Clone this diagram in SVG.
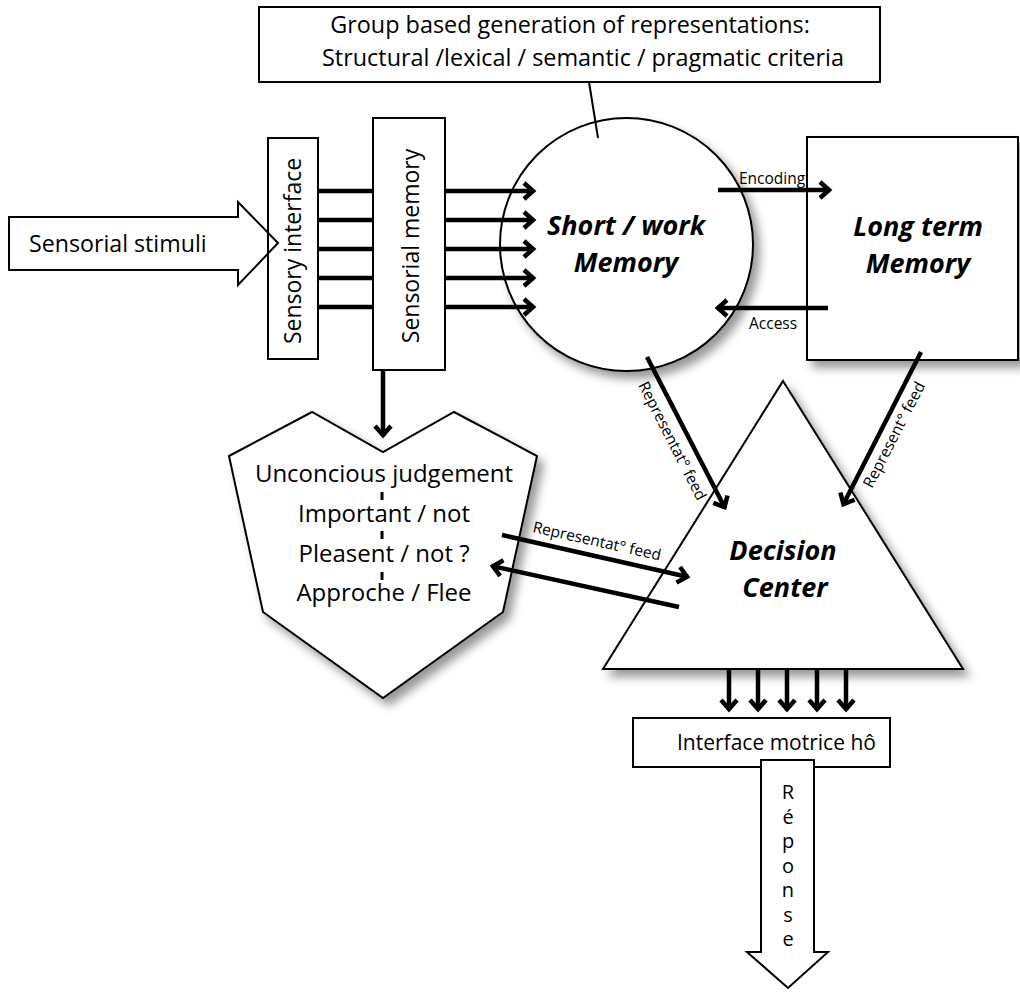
<svg xmlns="http://www.w3.org/2000/svg" width="1020" height="992" viewBox="0 0 1020 992">
  <defs>
    <style>
      .box { fill: #fff; stroke: #000; stroke-width: 2; }
      .open { fill: none; stroke: #000; stroke-width: 2; }
      .lbl { font-family: "Open Sans", "Liberation Sans", sans-serif; fill: #000; }
      .big { font-family: "Open Sans", "Liberation Sans", sans-serif; font-weight: bold; font-style: italic; font-size: 27px; fill: #000; text-anchor: middle; }
      .wire { stroke: #000; stroke-width: 4.5; fill: none; }
      .thin { stroke: #000; stroke-width: 2; fill: none; }
      .mid { text-anchor: middle; }
      .small { font-size: 15.5px; }
      .upright { writing-mode: vertical-rl; text-orientation: upright; letter-spacing: -2.5px; }
    </style>
    <filter id="shadow" x="-20%" y="-20%" width="150%" height="150%">
      <feDropShadow dx="6" dy="7" stdDeviation="5" flood-color="#000" flood-opacity="0.4"/>
    </filter>
    <marker id="chev" markerUnits="userSpaceOnUse" viewBox="-14 -12 18 24" markerWidth="18" markerHeight="24" refX="1" refY="0" orient="auto" overflow="visible">
      <path d="M-9,-8 L0,0 L-9,8" fill="none" stroke="#000" stroke-width="4.5"/>
    </marker>
  </defs>

  <rect width="1020" height="992" fill="#fff"/>

  <!-- stimulus input arrow -->
  <g id="stimuli">
    <polygon class="box" points="9,217 238,217 238,202 278,243 238,285 238,270 9,270"/>
    <text class="lbl" x="29" y="252" font-size="23.2">Sensorial stimuli</text>
  </g>

  <g id="sensory-interface">
    <rect class="open" x="268" y="138" width="50" height="221"/>
    <text class="lbl mid" font-size="23" transform="translate(301,251) rotate(-90)">Sensory interface</text>
  </g>

  <g id="sensorial-memory">
    <rect class="box" x="373" y="118" width="72" height="252"/>
    <text class="lbl mid" font-size="23" transform="translate(419,246) rotate(-90)">Sensorial memory</text>
  </g>

  <g id="criteria">
    <rect class="box" x="259" y="7" width="621" height="75"/>
    <text class="lbl mid" x="570" y="33" font-size="23.4">Group based generation of representations:</text>
    <text class="lbl mid" x="583" y="66" font-size="23.4">Structural /lexical / semantic / pragmatic criteria</text>
  </g>

  <g id="short-term">
    <circle class="box" cx="626.5" cy="244.5" r="126.5" filter="url(#shadow)"/>
    <text class="big" x="626" y="235">Short / work</text>
    <text class="big" x="626" y="272">Memory</text>
  </g>

  <g id="long-term">
    <rect class="box" x="807" y="137" width="211" height="223" filter="url(#shadow)"/>
    <text class="big" x="918" y="236">Long term</text>
    <text class="big" x="918" y="273">Memory</text>
  </g>

  <g id="judgement">
    <path class="box" d="M229,456 L312,412 L383,452 L454,412 L537,456 L503,612 L383,698 L263,612 Z" filter="url(#shadow)"/>
    <text class="lbl mid" x="384" y="482" font-size="24">Unconcious judgement</text>
    <text class="lbl mid" x="384" y="522" font-size="24">Important / not</text>
    <text class="lbl mid" x="384" y="562" font-size="24">Pleasent / not ?</text>
    <text class="lbl mid" x="384" y="601" font-size="24">Approche / Flee</text>
    <path d="M382,492 V500 M382,531 V539 M382,572 V580" stroke="#000" stroke-width="3"/>
  </g>

  <g id="decision">
    <path class="box" d="M783,381 L963,669 L603,669 Z" filter="url(#shadow)"/>
    <text class="big" x="783" y="560">Decision</text>
    <text class="big" x="785" y="597">Center</text>
  </g>

  <g id="motor-interface">
    <rect class="box" x="633" y="718" width="257" height="49"/>
    <text class="lbl" x="677" y="750" font-size="21">Interface motrice hô</text>
  </g>

  <g id="response">
    <polygon class="box" points="761,760 814,760 814,952 828,952 788,988 747,952 761,952"/>
    <text class="lbl upright" x="788" y="778" font-size="20">Réponse</text>
  </g>

  <g id="connectors">
    <!-- criteria callout -->
    <line class="thin" x1="589" y1="82" x2="598" y2="138"/>
    <!-- interface to sensorial memory -->
    <path class="wire" d="M318,191 H373 M318,220 H373 M318,249 H373 M318,278 H373 M318,307 H373"/>
    <!-- sensorial memory to short term -->
    <line class="wire" x1="445" y1="191" x2="534" y2="191" marker-end="url(#chev)"/>
    <line class="wire" x1="445" y1="220" x2="534" y2="220" marker-end="url(#chev)"/>
    <line class="wire" x1="445" y1="249" x2="534" y2="249" marker-end="url(#chev)"/>
    <line class="wire" x1="445" y1="278" x2="534" y2="278" marker-end="url(#chev)"/>
    <line class="wire" x1="445" y1="307" x2="534" y2="307" marker-end="url(#chev)"/>
    <!-- sensorial memory to judgement -->
    <line class="wire" x1="383" y1="370" x2="383" y2="436" marker-end="url(#chev)"/>
    <!-- encoding / access -->
    <line class="wire" x1="718" y1="190" x2="830" y2="190" marker-end="url(#chev)"/>
    <text class="lbl small" x="739" y="184">Encoding</text>
    <line class="wire" x1="828" y1="308" x2="717" y2="308" marker-end="url(#chev)"/>
    <text class="lbl small" x="749" y="329">Access</text>
    <!-- short term to decision -->
    <line class="wire" x1="647" y1="357" x2="725" y2="508" marker-end="url(#chev)"/>
    <text class="lbl small" transform="translate(638,385) rotate(63)">Representat° feed</text>
    <!-- long term to decision -->
    <line class="wire" x1="921" y1="352" x2="843" y2="505" marker-end="url(#chev)"/>
    <text class="lbl small" transform="translate(872,489) rotate(-62.7)">Represent° feed</text>
    <!-- judgement <-> decision -->
    <line class="wire" x1="502" y1="535" x2="688" y2="577" marker-end="url(#chev)"/>
    <text class="lbl small" transform="translate(532,532) rotate(12.6)">Representat° feed</text>
    <line class="wire" x1="679" y1="607" x2="492" y2="566" marker-end="url(#chev)"/>
    <!-- decision to motor interface -->
    <line class="wire" x1="729" y1="669" x2="729" y2="710" marker-end="url(#chev)"/>
    <line class="wire" x1="758" y1="669" x2="758" y2="710" marker-end="url(#chev)"/>
    <line class="wire" x1="787" y1="669" x2="787" y2="710" marker-end="url(#chev)"/>
    <line class="wire" x1="817" y1="669" x2="817" y2="710" marker-end="url(#chev)"/>
    <line class="wire" x1="846" y1="669" x2="846" y2="710" marker-end="url(#chev)"/>
  </g>
</svg>
